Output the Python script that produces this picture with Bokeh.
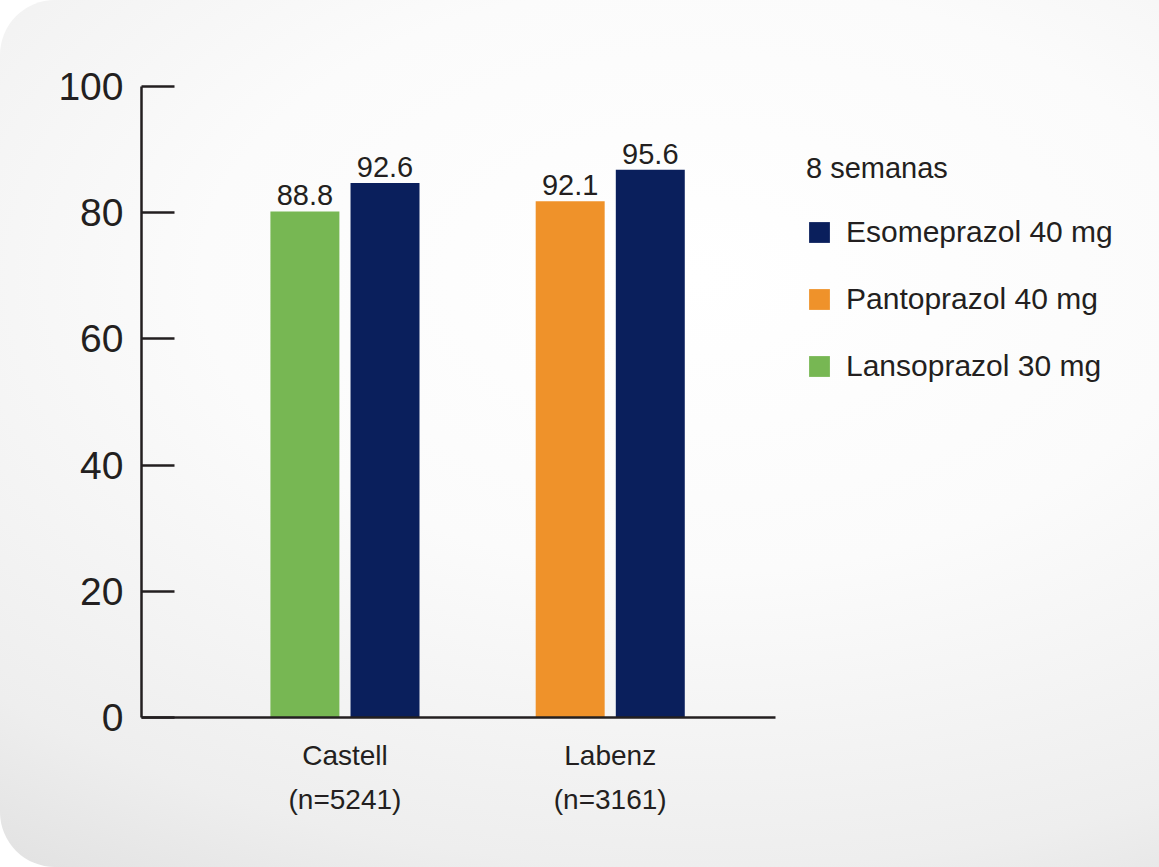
from bokeh.plotting import figure
from bokeh.models import Range1d, FixedTicker, ColumnDataSource, Legend, LegendItem
from bokeh.transform import dodge
from bokeh.embed import file_html
from bokeh.resources import INLINE
from bokeh.core.properties import value

# ---- data ----
studies = ["Castell\n(n=5241)", "Labenz\n(n=3161)"]
study_pos = [0, 1]
esomeprazol_label = "Esomeprazol 40 mg"
comparator_labels = ["Lansoprazol 30 mg", "Pantoprazol 40 mg"]
esomeprazol_values = [92.6, 95.6]        # printed values
comparator_values = [88.8, 92.1]         # printed values
esomeprazol_heights = [84.7, 86.8]       # bar heights as drawn against the y axis
comparator_heights = [80.2, 81.8]
y_ticks = [0, 20, 40, 60, 80, 100]
legend_title = "8 semanas"

NAVY = "#0a1f5c"
GREEN = "#77b753"
ORANGE = "#ef922a"
TXT = "#231f20"
FONT = "Liberation Sans"
OFF = 0.151
BW = 0.26

p = figure(frame_width=634, frame_height=631, output_backend="svg", toolbar_location=None,
           x_range=Range1d(-0.767, 1.623), y_range=Range1d(0, 100),
           min_border_left=141, min_border_right=384, min_border_top=86, min_border_bottom=150)
p.border_fill_color = None
p.background_fill_color = None
p.outline_line_color = None
p.xgrid.visible = False
p.ygrid.visible = False
p.styles = {
    "background": "radial-gradient(ellipse 80% 85% at 45% 32%, #ffffff 0%, #fbfbfb 40%, #eeeeee 80%, #e0e0e0 100%)",
    "border-radius": "55px",
}

src_eso = ColumnDataSource(dict(x=study_pos, top=esomeprazol_heights,
                                label=[f"{v:.1f}" for v in esomeprazol_values]))
src_cmp = ColumnDataSource(dict(x=study_pos, top=comparator_heights,
                                label=[f"{v:.1f}" for v in comparator_values],
                                color=[GREEN, ORANGE]))

r_cmp = p.vbar(x=dodge("x", -OFF, range=p.x_range), top="top", width=BW, source=src_cmp,
               fill_color="color", line_color=None)
r_eso = p.vbar(x=dodge("x", OFF, range=p.x_range), top="top", width=BW, source=src_eso,
               fill_color=NAVY, line_color=None)

for src, off in ((src_cmp, -OFF), (src_eso, OFF)):
    p.text(x=dodge("x", off, range=p.x_range), y="top", text="label", source=src,
           text_align="center", text_baseline="bottom", y_offset=-6,
           text_font=value(FONT), text_font_size="29px", text_color=TXT)

legend = Legend(items=[
    LegendItem(label=esomeprazol_label, renderers=[r_eso], index=0),
    LegendItem(label=comparator_labels[1], renderers=[r_cmp], index=1),
    LegendItem(label=comparator_labels[0], renderers=[r_cmp], index=0),
], title=legend_title, location=(31, 334))
legend.background_fill_alpha = 0
legend.border_line_color = None
legend.padding = 0
legend.margin = 0
legend.glyph_width = 26
legend.glyph_height = 26
legend.label_standoff = 14
legend.spacing = 33
legend.label_text_font = FONT
legend.label_text_font_size = "30px"
legend.label_text_color = TXT
legend.title_text_font = FONT
legend.title_text_font_size = "29px"
legend.title_text_font_style = "normal"
legend.title_text_color = TXT
legend.title_standoff = 30
p.add_layout(legend, "right")

ya = p.yaxis[0]
ya.ticker = FixedTicker(ticks=y_ticks)
ya.major_tick_in = 33
ya.major_tick_out = 0
ya.minor_tick_line_color = None
ya.axis_line_width = 2.5
ya.axis_line_color = TXT
ya.major_tick_line_width = 2.5
ya.major_tick_line_color = TXT
ya.major_label_text_font = FONT
ya.major_label_text_font_size = "39px"
ya.major_label_text_color = TXT
ya.major_label_standoff = 18

xa = p.xaxis[0]
xa.ticker = FixedTicker(ticks=study_pos)
xa.major_label_overrides = {pos: name for pos, name in zip(study_pos, studies)}
xa.major_tick_in = 0
xa.major_tick_out = 0
xa.minor_tick_line_color = None
xa.axis_line_width = 2.5
xa.axis_line_color = TXT
xa.major_label_text_font = FONT
xa.major_label_text_font_size = "28px"
xa.major_label_text_color = TXT
xa.major_label_text_line_height = 1.45
xa.major_label_standoff = 22

open("out.html", "w").write(file_html(p, INLINE))
